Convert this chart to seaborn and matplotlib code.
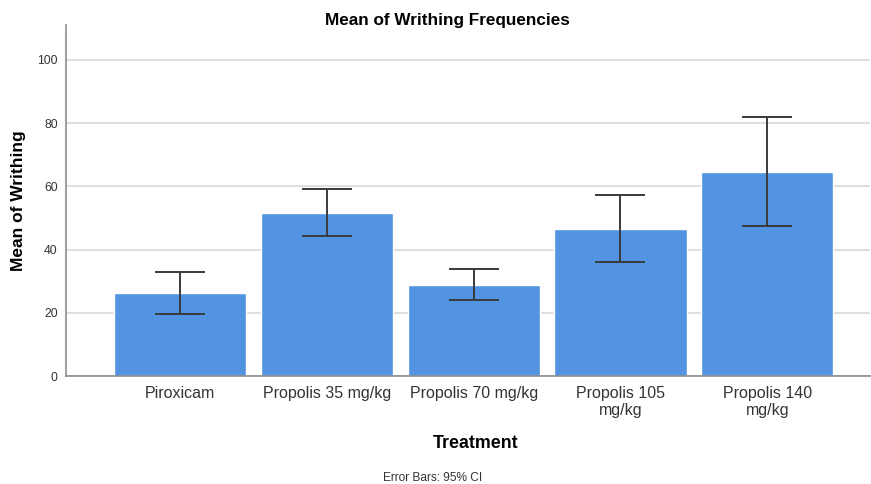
import numpy as np
import pandas as pd
import matplotlib
matplotlib.use("Agg")
import matplotlib.pyplot as plt
import seaborn as sns

# data
treatments = ["Piroxicam", "Propolis 35 mg/kg", "Propolis 70 mg/kg",
              "Propolis 105\nmg/kg", "Propolis 140\nmg/kg"]
means = [26.3, 51.6, 28.8, 46.5, 64.6]
ci_low = [19.7, 44.3, 24.1, 36.0, 47.5]
ci_high = [33.0, 59.2, 33.9, 57.3, 81.9]
y_ticks = [0, 20, 40, 60, 80, 100]

sns.set_theme(style="white")
plt.rcParams['font.family'] = ['Liberation Sans', 'DejaVu Sans']

df = pd.DataFrame({"Treatment": treatments, "Mean": means})

fig = plt.figure(figsize=(8.71, 4.84), dpi=100)
ax = fig.add_axes([0.0758, 0.2231, 0.9232, 0.7249])

sns.barplot(data=df, x="Treatment", y="Mean", color="#5294E2", saturation=1,
            width=0.9, errorbar=None, ax=ax, zorder=2)

# asymmetric 95% CI bars
pos = np.arange(len(treatments))
yerr = [np.array(means) - np.array(ci_low), np.array(ci_high) - np.array(means)]
ax.errorbar(pos, means, yerr=yerr, fmt="none", ecolor="#3a3a3a",
            elinewidth=1.4, capsize=18, capthick=1.4, zorder=3)

ax.set_ylim(0, 111)
ax.set_xlim(-0.776, 4.70)
ax.set_yticks(y_ticks)
ax.set_yticklabels([str(v) for v in y_ticks], fontsize=8.7, color="#333333")
ax.tick_params(axis="x", labelsize=11.5, labelcolor="#333333", length=0, pad=7)
ax.tick_params(axis="y", length=0, pad=6)
ax.yaxis.grid(True, color="#d9d9d9", linewidth=1.2, zorder=0)
ax.set_axisbelow(True)

for s in ["top", "right"]:
    ax.spines[s].set_visible(False)
for s in ["left", "bottom"]:
    ax.spines[s].set_color("#8c8c8c")
    ax.spines[s].set_linewidth(1.2)

ax.set_xlabel("")
ax.set_ylabel("Mean of Writhing", fontsize=12.5, fontweight="bold",
              color="black", labelpad=8)

fig.text(447 / 871, 1 - 20 / 484, "Mean of Writhing Frequencies",
         ha="center", va="center", fontsize=12.3, fontweight="bold", color="black")
fig.text(476 / 871, 1 - 444 / 484, "Treatment",
         ha="center", va="center", fontsize=12.8, fontweight="bold", color="black")
fig.text(433 / 871, 1 - 478 / 484, "Error Bars: 95% CI",
         ha="center", va="center", fontsize=8.6, color="#333333")

plt.savefig("out.png", dpi=100)
